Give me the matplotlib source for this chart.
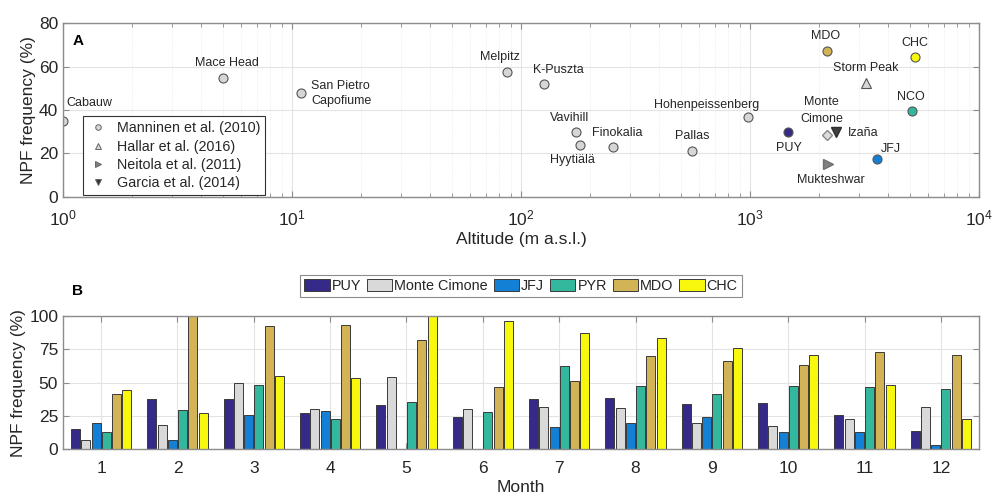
import numpy as np
import matplotlib
matplotlib.use('Agg')
import matplotlib.pyplot as plt
from matplotlib.lines import Line2D
from matplotlib.patches import Patch

plt.rcParams.update({
    'font.family': ['Liberation Sans', 'DejaVu Sans'],
    'text.color': '#262626',
    'axes.labelcolor': '#262626',
    'xtick.color': '#262626',
    'ytick.color': '#262626',
})

# Panel A: literature NPF frequencies vs station altitude
lit_sites = ['Cabauw', 'Mace Head', 'San Pietro\nCapofiume', 'Melpitz', 'K-Puszta',
             'Vavihill', 'Hyytiälä', 'Finokalia', 'Pallas', 'Hohenpeissenberg']
lit_alt = [1, 5, 11, 87, 126, 173, 181, 251, 560, 980]
lit_freq = [35, 54.5, 48, 57.5, 52, 30, 24, 23, 21, 36.5]

hallar_site, hallar_alt, hallar_freq = 'Storm Peak', 3210, 52.5
neitola_site, neitola_alt, neitola_freq = 'Mukteshwar', 2180, 15
garcia_site, garcia_alt, garcia_freq = 'Izaña', 2373, 30
cimone_site, cimone_alt, cimone_freq = 'Monte\nCimone', 2165, 28.5

stations = ['PUY', 'MDO', 'CHC', 'NCO', 'JFJ']
station_alt = [1465, 2160, 5240, 5079, 3580]
station_freq = [30, 67, 64.5, 39.5, 17.5]

# Panel B: monthly NPF frequency per station
months = np.arange(1, 13)
bar_series = ['PUY', 'Monte Cimone', 'JFJ', 'PYR', 'MDO', 'CHC']
puy = [15, 38, 38, 27, 33.5, 24, 38, 38.5, 34, 35, 25.75, 13.75]
cimone = [7, 18, 50, 30, 54, 30, 32, 31, 20, 17.25, 23, 32]
jfj = [19.5, 7.25, 25.75, 28.5, 0, 0, 17, 20, 24, 13, 13, 3.5]
pyr = [13, 29.75, 48.25, 22.75, 35.25, 27.75, 62.75, 47.75, 41.75, 47.75, 46.75, 45]
mdo = [41.75, 100, 92.75, 93, 82.25, 46.5, 51.5, 69.75, 66.5, 63, 73, 70.75]
chc = [44.75, 27.5, 54.75, 53.25, 100, 96.5, 87, 83.75, 75.75, 70.75, 48, 22.5]

colors = {
    'PUY': '#352a87',
    'Monte Cimone': '#d9d9d9',
    'JFJ': '#1380d6',
    'PYR': '#33b89e',
    'NCO': '#33b89e',
    'MDO': '#d2b456',
    'CHC': '#f8f80f',
}
grey_face = '#d6d6d6'
edge = '#555555'
spine_col = '#8c8c8c'


def style_axes(ax):
    for s in ax.spines.values():
        s.set_color(spine_col)
        s.set_linewidth(1.0)
    ax.tick_params(which='both', direction='in', top=True, right=True,
                   labelsize=12.5, color=spine_col)
    ax.tick_params(which='major', length=4.5)
    ax.tick_params(which='minor', length=3)
    ax.tick_params(axis='x', which='both', pad=8.5)
    ax.set_axisbelow(True)


fig = plt.figure(figsize=(9.92, 4.95), dpi=100)

# ---------------- Panel A ----------------
axA = fig.add_axes([0.0635, 0.603, 0.9234, 0.350])
mk = dict(linestyle='none', markeredgecolor=edge, markeredgewidth=0.8, markersize=6.5)
axA.plot(lit_alt, lit_freq, marker='o', markerfacecolor=grey_face, **mk)
axA.plot([hallar_alt], [hallar_freq], marker='^', markerfacecolor=grey_face, **mk)
axA.plot([neitola_alt], [neitola_freq], marker='>', markerfacecolor='#808080',
         linestyle='none', markeredgecolor='#707070', markersize=7)
axA.plot([garcia_alt], [garcia_freq], marker='v', markerfacecolor='#404040',
         linestyle='none', markeredgecolor='#303030', markersize=7)
axA.plot([cimone_alt], [cimone_freq], marker='D', markerfacecolor='#dcdcdc',
         linestyle='none', markeredgecolor='#888888', markersize=5.5)
for st, a, f in zip(stations, station_alt, station_freq):
    axA.plot([a], [f], marker='o', markerfacecolor=colors[st], **mk)

# label offsets in pixels (dx, dy) and horizontal alignment
lit_offsets = [(3, 18, 'left'), (4, 15, 'center'), (10, -1, 'left'), (-7, 15, 'center'),
               (14, 14, 'center'), (-6, 14, 'center'), (-8, -15, 'center'),
               (5, 14, 'center'), (0, 15, 'center'), (-41, 12, 'center')]
for name, a, f, (dx, dy, ha) in zip(lit_sites, lit_alt, lit_freq, lit_offsets):
    axA.annotate(name, (a, f), xytext=(dx, dy), textcoords='offset pixels',
                 ha=ha, va='center', fontsize=9, linespacing=1.35)

extra = [(hallar_site, hallar_alt, hallar_freq, 0, 15, 'center'),
         (neitola_site, neitola_alt, neitola_freq, 3, -16, 'center'),
         (garcia_site, garcia_alt, garcia_freq, 12, -1, 'left'),
         (cimone_site, cimone_alt, cimone_freq, -5, 24, 'center')]
for name, a, f, dx, dy, ha in extra:
    axA.annotate(name, (a, f), xytext=(dx, dy), textcoords='offset pixels',
                 ha=ha, va='center', fontsize=9, linespacing=1.6)

st_offsets = {'PUY': (1, -16), 'MDO': (-1, 15), 'CHC': (0, 14), 'NCO': (-1, 14), 'JFJ': (14, 10)}
for st, a, f in zip(stations, station_alt, station_freq):
    dx, dy = st_offsets[st]
    axA.annotate(st, (a, f), xytext=(dx, dy), textcoords='offset pixels',
                 ha='center', va='center', fontsize=9)

axA.set_xscale('log')
axA.set_xlim(1, 1e4)
axA.set_ylim(0, 80)
axA.set_yticks([0, 20, 40, 60, 80])
axA.grid(which='major', color='#e3e3e3', linewidth=0.8)
axA.grid(which='minor', axis='x', color='#e8e8e8', linewidth=0.6, linestyle=':')
style_axes(axA)
axA.set_xlabel('Altitude (m a.s.l.)', fontsize=12.5, labelpad=3)
axA.set_ylabel('NPF frequency (%)', fontsize=12.5, labelpad=2)
axA.text(0.011, 0.90, 'A', transform=axA.transAxes, fontsize=11, fontweight='bold',
         color='black', va='center')

lk = dict(linestyle='none', markersize=4, markeredgecolor='#666666', markeredgewidth=0.7)
leg_handles = [
    Line2D([], [], marker='o', markerfacecolor=grey_face, **lk),
    Line2D([], [], marker='^', markerfacecolor=grey_face, **lk),
    Line2D([], [], marker='>', markerfacecolor='#808080', **lk),
    Line2D([], [], marker='v', markerfacecolor='#333333', **lk),
]
leg_labels = ['Manninen et al. (2010)', 'Hallar et al. (2016)',
              'Neitola et al. (2011)', 'Garcia et al. (2014)']
legA = axA.legend(leg_handles, leg_labels, loc='lower left', bbox_to_anchor=(0.022, 0.008),
                  borderaxespad=0, fontsize=10.3, fancybox=False, framealpha=1,
                  edgecolor='#333333', handlelength=1.4, handletextpad=0.6,
                  labelspacing=0.3, borderpad=0.35)
legA.get_frame().set_linewidth(0.8)

# ---------------- Panel B ----------------
axB = fig.add_axes([0.0635, 0.0925, 0.9234, 0.269])
width = 0.118
step = 0.135
series = [puy, cimone, jfj, pyr, mdo, chc]
for i, (name, vals) in enumerate(zip(bar_series, series)):
    axB.bar(months + (i - 2.5) * step, vals, width=width, color=colors[name],
            edgecolor='#3a3a3a', linewidth=0.7, label=name)

axB.set_xlim(0.5, 12.5)
axB.set_ylim(0, 100)
axB.set_xticks(months)
axB.set_yticks([0, 25, 50, 75, 100])
axB.grid(which='major', color='#e3e3e3', linewidth=0.8)
style_axes(axB)
axB.set_xlabel('Month', fontsize=12.5, labelpad=3)
axB.set_ylabel('NPF frequency (%)', fontsize=12.5, labelpad=2)
axB.text(0.010, 1.19, 'B', transform=axB.transAxes, fontsize=11, fontweight='bold',
         color='black', va='center')

bar_handles = [Patch(facecolor=colors[n], edgecolor='#3a3a3a', linewidth=0.7) for n in bar_series]
legB = axB.legend(bar_handles, bar_series, loc='lower center', ncol=6,
                  bbox_to_anchor=(0.5, 1.14), borderaxespad=0, fontsize=10.4,
                  fancybox=False, framealpha=1, edgecolor='#8c8c8c',
                  handlelength=1.75, handleheight=0.95, handletextpad=0.15,
                  columnspacing=0.4, borderpad=0.3)
legB.get_frame().set_linewidth(0.8)

fig.savefig('out.png', dpi=100)
